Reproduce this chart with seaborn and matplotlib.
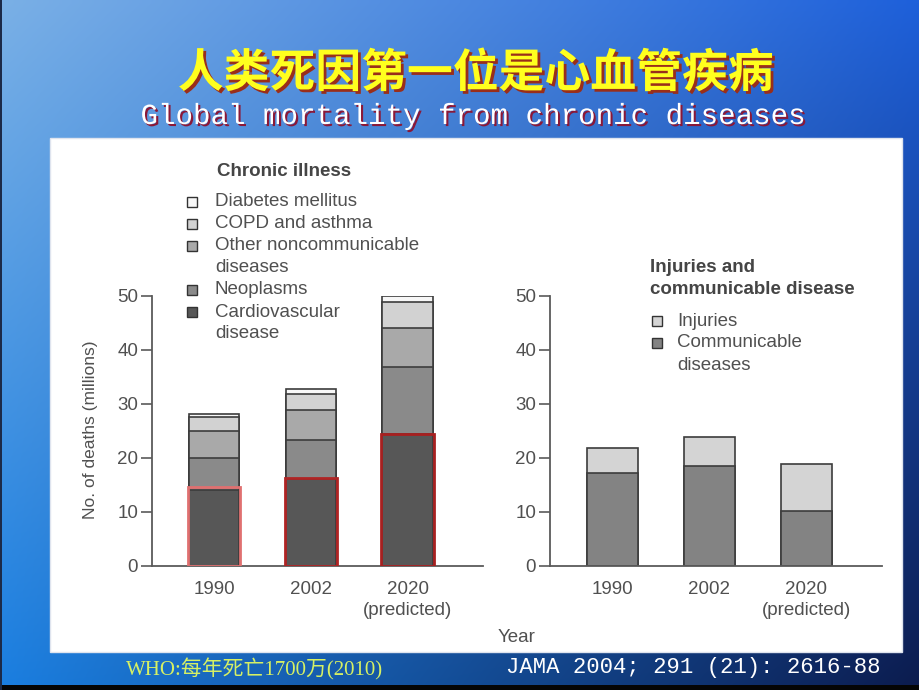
import matplotlib
import numpy as np
import pandas as pd
import seaborn as sns
from matplotlib import patheffects as pe
from matplotlib import pyplot as plt
from matplotlib.patches import Rectangle

matplotlib.use("Agg")

W, H = 920, 690

years = ["1990", "2002", "2020\n(predicted)"]

# chronic illness, deaths in millions, listed bottom -> top of the stack
cardiovascular = [14.0, 16.1, 24.4]
neoplasms = [6.0, 7.2, 12.4]
other_noncommunicable = [5.0, 5.5, 7.2]
copd_asthma = [2.5, 3.1, 4.9]
diabetes = [0.7, 0.8, 1.0]
# red boxes drawn over the cardiovascular segment on the slide
cvd_highlight = [14.7, 16.2, 24.5]

# injuries and communicable disease, bottom -> top
communicable = [17.2, 18.5, 10.2]
injuries = [4.7, 5.3, 8.6]

chronic_labels = ["Cardiovascular\ndisease", "Neoplasms", "Other noncommunicable\ndiseases",
                  "COPD and asthma", "Diabetes mellitus"]
chronic_colors = ["#575757", "#8a8a8a", "#a9a9a9", "#d2d2d2", "#f7f7f7"]
other_labels = ["Communicable\ndiseases", "Injuries"]
other_colors = ["#838383", "#d4d4d4"]

EDGE = "#3c3c3c"
TEXT = "#505050"
BAR_W = 0.52


def px(x, y):
    return x / W, 1 - y / H


def stacked(ax, layers, colors):
    # seaborn has no stacking, so paint running totals tallest first and let
    # each lower segment cover the one above it
    totals = np.cumsum(np.array(layers), axis=0)
    for total, color in reversed(list(zip(totals, colors))):
        frame = pd.DataFrame({"year": years, "deaths": total})
        sns.barplot(data=frame, x="year", y="deaths", color=color, saturation=1,
                    width=BAR_W, edgecolor=EDGE, linewidth=1.2, errorbar=None, ax=ax)


def style_axis(ax):
    ax.set_facecolor("none")
    ax.set_xlim(-0.643, 2.78)
    ax.set_ylim(0, 50)
    ax.set_yticks(range(0, 51, 10))
    ax.set_xlabel("")
    ax.set_ylabel("")
    sns.despine(ax=ax)
    for side in ("left", "bottom"):
        ax.spines[side].set_color("#5a5a5a")
        ax.spines[side].set_linewidth(1.3)
    ax.tick_params(axis="y", length=8, width=1.2, color="#5a5a5a", pad=2,
                   labelsize=13.5, labelcolor=TEXT)
    ax.tick_params(axis="x", length=0, pad=11, labelsize=13.5, labelcolor=TEXT)
    for lbl in ax.get_xticklabels():
        lbl.set_linespacing(1.3)


def draw_key(fig, x_box, x_text, x_title, y_first, title_lines, entries):
    y = y_first
    for line in title_lines:
        fig.text(*px(x_title, y), line, fontsize=13.5, fontweight="bold",
                 color="#454545", va="center", ha="left")
        y += 22
    y += 9
    for label, color in entries:
        fig.add_artist(Rectangle(px(x_box, y + 5), 10 / W, 10 / H, facecolor=color,
                                 edgecolor="#333333", linewidth=1, transform=fig.transFigure))
        for line in label.split("\n"):
            fig.text(*px(x_text, y), line, fontsize=13.5, color=TEXT, va="center", ha="left")
            y += 22


sns.set_style("ticks")
plt.rcParams["font.family"] = ["Liberation Sans", "Noto Sans CJK SC", "DejaVu Sans"]

fig = plt.figure(figsize=(W / 100, H / 100), dpi=100)

# slide background: blue gradient, white panel, dark strip at the bottom
bg = fig.add_axes([0, 0, 1, 1], zorder=-10)
gy, gx = np.mgrid[0:1:120j, 0:1:160j]
tl, tr = np.array([122, 176, 230]), np.array([30, 96, 218])
bl, br = np.array([26, 126, 224]), np.array([12, 28, 78])
grad = ((1 - gy)[..., None] * ((1 - gx)[..., None] * tl + gx[..., None] * tr)
        + gy[..., None] * ((1 - gx)[..., None] * bl + gx[..., None] * br)) / 255
bg.imshow(grad, aspect="auto", extent=[0, 1, 0, 1], interpolation="bilinear")
bg.add_patch(Rectangle(px(50, 652), 852 / W, 514 / H, facecolor="white",
                       edgecolor="#dfe4ee", linewidth=1))
bg.add_patch(Rectangle((0, 0), 1, 5 / H, facecolor="#050505", edgecolor="none"))
bg.add_patch(Rectangle((0, 0), 2.5 / W, 1, facecolor="#1c2a48", edgecolor="none"))
bg.set_xlim(0, 1)
bg.set_ylim(0, 1)
bg.axis("off")

fig.text(*px(476, 74), "人类死因第一位是心血管疾病", family=["Noto Sans CJK SC"],
         fontsize=33, fontweight="bold", color="#ffff1e", ha="center", va="center",
         path_effects=[pe.withSimplePatchShadow(offset=(2, -2), shadow_rgbFace="#9a2e1a", alpha=1)])
fig.text(*px(473, 116), "Global mortality from chronic diseases", family=["Liberation Mono"],
         fontsize=21, color="white", ha="center", va="center",
         path_effects=[pe.withSimplePatchShadow(offset=(1.5, -1.5), shadow_rgbFace="#8a1838", alpha=1)])

# left panel: chronic illness
ax1 = fig.add_axes([152 / W, 1 - 566 / H, 331 / W, 270.3 / H])
stacked(ax1, [cardiovascular, neoplasms, other_noncommunicable, copd_asthma, diabetes],
        chronic_colors)
ax1.bar(range(len(years)), cvd_highlight, width=0.54, fill=False,
        edgecolor=["#e07070", "#b02424", "#a82020"], linewidth=2, zorder=4)
style_axis(ax1)
ax1.set_ylabel("No. of deaths (millions)", fontsize=12.5, color=TEXT)
ax1.yaxis.set_label_coords(-0.163, 0.503)

# right panel: injuries and communicable disease
ax2 = fig.add_axes([550 / W, 1 - 566 / H, 332 / W, 270.3 / H])
stacked(ax2, [communicable, injuries], other_colors)
style_axis(ax2)

fig.text(*px(517, 638), "Year", fontsize=13.5, color=TEXT, ha="center", va="center")

draw_key(fig, 187, 215, 217, 171, ["Chronic illness"],
         list(zip(chronic_labels[::-1], chronic_colors[::-1])))
draw_key(fig, 652, 677, 650, 268, ["Injuries and", "communicable disease"],
         list(zip(other_labels[::-1], other_colors[::-1])))

fig.text(*px(126, 669), "WHO:每年死亡1700万(2010)",
         family=["Liberation Serif", "Noto Sans CJK SC"], fontsize=15,
         color="#d6f064", ha="left", va="center")
fig.text(*px(506, 668), "JAMA 2004; 291 (21): 2616-88", family=["Liberation Mono"],
         fontsize=16, color="white", ha="left", va="center")

fig.savefig("out.png", dpi=100)
